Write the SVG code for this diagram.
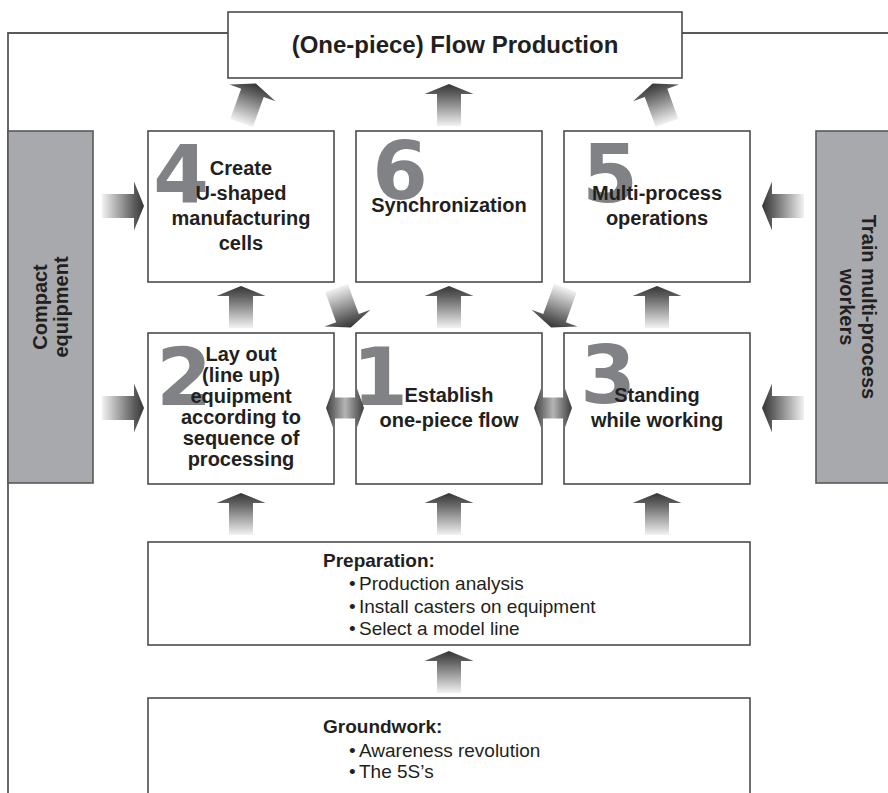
<svg xmlns="http://www.w3.org/2000/svg" xmlns:xlink="http://www.w3.org/1999/xlink" width="888" height="793" viewBox="0 0 888 793">
<style>
.box{fill:#fff;stroke:#4d4d4d;stroke-width:1.6}
.side{fill:#a7a9ac;stroke:#58595b;stroke-width:1.6}
.frame{fill:none;stroke:#58595b;stroke-width:1.8}
.t{font-family:"Liberation Sans",Arial,sans-serif;font-weight:bold;font-size:20px;fill:#231f20;text-anchor:middle}
.title{font-family:"Liberation Sans",Arial,sans-serif;font-weight:bold;font-size:24px;fill:#231f20;text-anchor:middle}
.h{font-family:"Liberation Sans",Arial,sans-serif;font-weight:bold;font-size:19px;fill:#231f20}
.b{font-family:"Liberation Sans",Arial,sans-serif;font-size:19px;fill:#231f20}
.num{font-family:"DejaVu Sans",sans-serif;font-weight:bold;font-size:80px;fill:#808285;text-anchor:middle}
</style>
<defs>
<linearGradient id="gUp" x1="0" y1="1" x2="0" y2="0">
<stop offset="0" stop-color="#f2f2f2"/>
<stop offset="0.76" stop-color="#5e5e5e"/>
<stop offset="1" stop-color="#353535"/>
</linearGradient>
<linearGradient id="gH" x1="0" y1="0" x2="1" y2="0">
<stop offset="0" stop-color="#3d3d3d"/>
<stop offset="0.5" stop-color="#b5b5b5"/>
<stop offset="1" stop-color="#3d3d3d"/>
</linearGradient>
<path id="arr" d="M-12,0 L12,0 L12,-32 L24.5,-32 L0,-42 L-24.5,-32 L-12,-32 Z" fill="url(#gUp)"/>
<path id="darr" d="M-19,0 L-10,-25 L-10,-10.5 L10,-10.5 L10,-25 L19,0 L10,25 L10,10.5 L-10,10.5 L-10,25 Z" fill="url(#gH)"/>
</defs>

<g id="frame">
<path class="frame" d="M8,800 L8,33 L228,33 M682,33 L890,33"/>
</g>

<g id="title">
<rect class="box" x="228" y="12" width="454" height="66"/>
<text class="title" x="455" y="53">(One-piece) Flow Production</text>
</g>

<g id="compact">
<rect class="side" x="8" y="131" width="85" height="352"/>
<text class="t" transform="translate(47,307) rotate(-90)">Compact</text>
<text class="t" transform="translate(68,307) rotate(-90)">equipment</text>
</g>

<g id="train">
<rect class="side" x="816" y="131" width="80" height="352"/>
<text class="t" transform="translate(862,307) rotate(90)">Train multi-process</text>
<text class="t" transform="translate(840,307) rotate(90)">workers</text>
</g>

<g id="node4">
<rect class="box" x="148" y="131" width="186" height="151"/>
<text class="num" x="181" y="203">4</text>
<text class="t" x="241" y="175">Create</text>
<text class="t" x="241" y="200">U-shaped</text>
<text class="t" x="241" y="225">manufacturing</text>
<text class="t" x="241" y="250">cells</text>
</g>

<g id="node6">
<rect class="box" x="356" y="131" width="186" height="151"/>
<text class="num" x="400" y="199">6</text>
<text class="t" x="449" y="212">Synchronization</text>
</g>

<g id="node5">
<rect class="box" x="564" y="131" width="186" height="151"/>
<text class="num" x="610" y="202">5</text>
<text class="t" x="657" y="200">Multi-process</text>
<text class="t" x="657" y="225">operations</text>
</g>

<g id="node2">
<rect class="box" x="148" y="333" width="186" height="151"/>
<text class="num" x="184" y="405">2</text>
<text class="t" x="241" y="361">Lay out</text>
<text class="t" x="241" y="382">(line up)</text>
<text class="t" x="241" y="403">equipment</text>
<text class="t" x="241" y="424">according to</text>
<text class="t" x="241" y="445">sequence of</text>
<text class="t" x="241" y="466">processing</text>
</g>

<g id="node1">
<rect class="box" x="356" y="333" width="186" height="151"/>
<text class="num" x="380" y="405">1</text>
<text class="t" x="449" y="402">Establish</text>
<text class="t" x="449" y="427">one-piece flow</text>
</g>

<g id="node3">
<rect class="box" x="564" y="333" width="186" height="151"/>
<text class="num" x="608" y="403">3</text>
<text class="t" x="657" y="402">Standing</text>
<text class="t" x="657" y="427">while working</text>
</g>

<g id="preparation">
<rect class="box" x="148" y="542" width="602" height="103"/>
<text class="h" x="323" y="567">Preparation:</text>
<text class="b"><tspan x="349" y="590">•</tspan><tspan x="359" y="590">Production analysis</tspan></text>
<text class="b"><tspan x="349" y="613">•</tspan><tspan x="359" y="613">Install casters on equipment</tspan></text>
<text class="b"><tspan x="349" y="635">•</tspan><tspan x="359" y="635">Select a model line</tspan></text>
</g>

<g id="groundwork">
<rect class="box" x="148" y="698" width="602" height="120"/>
<text class="h" x="323" y="733">Groundwork:</text>
<text class="b"><tspan x="349" y="757">•</tspan><tspan x="359" y="757">Awareness revolution</tspan></text>
<text class="b"><tspan x="349" y="778">•</tspan><tspan x="359" y="778">The 5S’s</tspan></text>
</g>

<g id="connectors">
<use xlink:href="#arr" transform="translate(241.5,123) rotate(20)"/>
<use xlink:href="#arr" transform="translate(449,126)"/>
<use xlink:href="#arr" transform="translate(667,123) rotate(-20)"/>
<use xlink:href="#arr" transform="translate(102,206) rotate(90)"/>
<use xlink:href="#arr" transform="translate(804,206) rotate(-90)"/>
<use xlink:href="#arr" transform="translate(102,408) rotate(90)"/>
<use xlink:href="#arr" transform="translate(804,408) rotate(-90)"/>
<use xlink:href="#arr" transform="translate(241,328)"/>
<use xlink:href="#arr" transform="translate(449,328)"/>
<use xlink:href="#arr" transform="translate(657,328)"/>
<use xlink:href="#arr" transform="translate(336.5,288) rotate(160)"/>
<use xlink:href="#arr" transform="translate(565.5,288) rotate(-160)"/>
<use xlink:href="#darr" transform="translate(345,408)"/>
<use xlink:href="#darr" transform="translate(553,408)"/>
<use xlink:href="#arr" transform="translate(241,535)"/>
<use xlink:href="#arr" transform="translate(449,535)"/>
<use xlink:href="#arr" transform="translate(657,535)"/>
<use xlink:href="#arr" transform="translate(449,693)"/>
</g>
</svg>
